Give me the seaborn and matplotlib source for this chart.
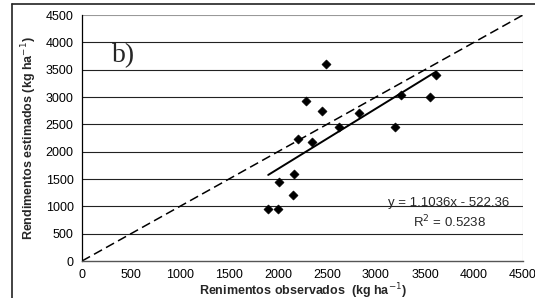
import numpy as np
import pandas as pd
import seaborn as sns
import matplotlib
matplotlib.use("Agg")
import matplotlib.pyplot as plt
from matplotlib.lines import Line2D

observed = [2490, 3610, 2290, 2450, 2830, 3250, 3550, 2620, 3190, 2200,
            2350, 2160, 2010, 2150, 1900, 2000]
estimated = [3600, 3410, 2930, 2750, 2710, 3040, 3000, 2450, 2450, 2230,
             2170, 1600, 1450, 1210, 960, 960]
slope = 1.1036
intercept = -522.36
r2 = 0.5238
ticks = [0, 500, 1000, 1500, 2000, 2500, 3000, 3500, 4000, 4500]

df = pd.DataFrame({"obs": observed, "est": estimated})

sns.set_style("white")
plt.rcParams["font.family"] = ["Liberation Sans", "DejaVu Sans"]

fig = plt.figure(figsize=(5.35, 2.98), dpi=100)
ax = fig.add_axes([82 / 535, 1 - 261 / 298, (523 - 82) / 535, (261 - 15) / 298])

# horizontal grid
for t in ticks[1:-1]:
    ax.axhline(t, color="#222222", linewidth=0.8, zorder=0)
ax.axhline(4500, color="#999999", linewidth=0.8, zorder=0)

# 1:1 line
ax.plot([0, 4500], [0, 4500], color="black", linestyle=(0, (6, 3)), linewidth=1.1)

# fitted line
xs = np.array([df.obs.min(), df.obs.max()])
ax.plot(xs, slope * xs + intercept, color="black", linewidth=1.4)

sns.scatterplot(data=df, x="obs", y="est", marker="D", color="black", s=22,
                edgecolor="black", ax=ax, zorder=5)

ax.set_xlim(0, 4500)
ax.set_ylim(0, 4500)
ax.set_xticks(ticks)
ax.set_yticks(ticks)
ax.tick_params(axis="both", labelsize=9, length=3, width=0.8, direction="out",
               pad=3, colors="black")
ax.tick_params(axis="x", pad=3)
for s in ["top", "right"]:
    ax.spines[s].set_visible(False)
ax.spines["left"].set_color("black")
ax.spines["left"].set_linewidth(0.9)
ax.spines["bottom"].set_color("#555555")
ax.spines["bottom"].set_linewidth(1.0)
ax.axvline(4500, color="#999999", linewidth=0.8)

ax.set_xlabel("Renimentos observados  (kg ha$^{-1}$)", fontsize=9,
              fontweight="bold", labelpad=0)
ax.set_ylabel("Rendimentos estimados (kg ha$^{-1}$)", fontsize=9,
              fontweight="bold", labelpad=5)

ax.text(420, 3750, "b)", fontsize=20, family="Liberation Serif", ha="center", va="center")
ax.text(3745, 1061, "y = %.4fx - %.2f" % (slope, -intercept), fontsize=9.5, ha="center", va="center")
ax.text(3755, 713, "R$^2$ = %.4f" % r2, fontsize=9.5, ha="center", va="center")

# outer frame (left and top)
fig.add_artist(Line2D([12 / 535, 12 / 535], [0, 1 - 4 / 298], color="#222222", linewidth=1.2))
fig.add_artist(Line2D([12 / 535, 1], [1 - 4 / 298, 1 - 4 / 298], color="#222222", linewidth=1.2))

fig.savefig("out.png", dpi=100)
